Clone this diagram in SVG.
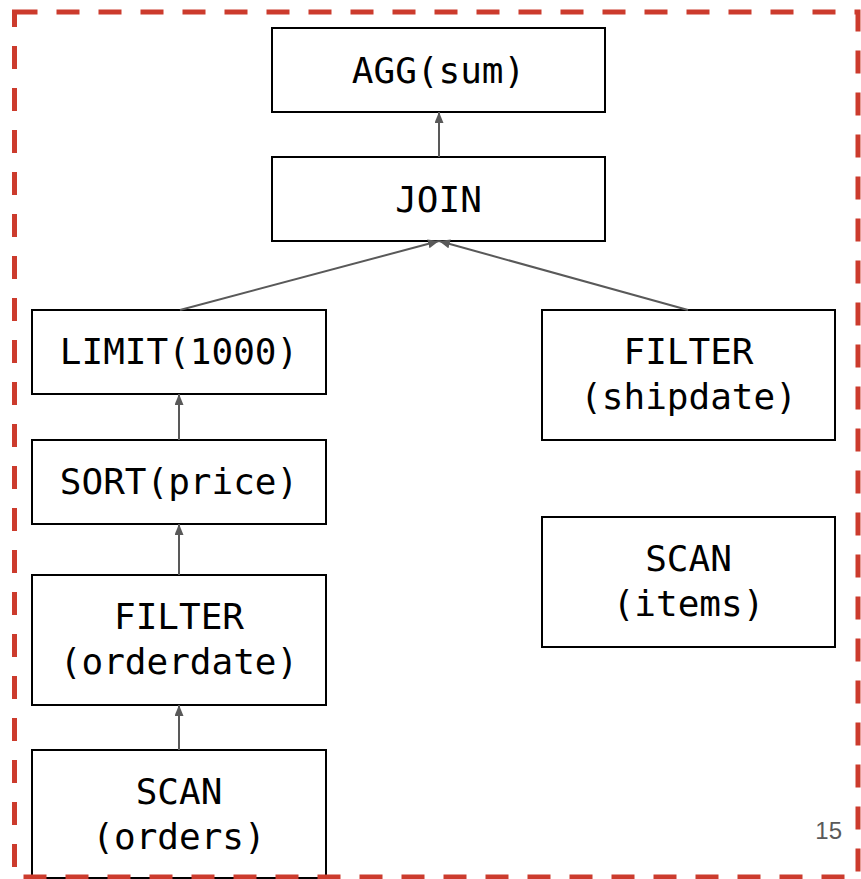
<svg xmlns="http://www.w3.org/2000/svg" width="861" height="879" viewBox="0 0 861 879">
  <style>
    .box { fill: #ffffff; stroke: #000000; stroke-width: 2; }
    .lbl { font-family: "DejaVu Sans Mono", "Liberation Mono", monospace; font-size: 36px; fill: #000000; text-anchor: middle; }
    .edge { fill: none; stroke: #595959; stroke-width: 2; marker-end: url(#arrow); }
    .frame { fill: none; stroke: #cc3b2d; stroke-width: 5; stroke-dasharray: 23 19; }
    .page { font-family: "Liberation Sans", Arial, sans-serif; font-size: 24px; fill: #595959; text-anchor: end; }
  </style>
  <defs>
    <marker id="arrow" markerUnits="userSpaceOnUse" markerWidth="11" markerHeight="10" refX="11" refY="4.5" orient="auto">
      <path d="M0,0 L11,4.5 L0,9 z" fill="#595959"/>
    </marker>
  </defs>

  <rect width="861" height="879" fill="#ffffff"/>

  <!-- operator nodes -->
  <g id="agg">
    <rect class="box" x="272" y="28" width="333" height="84"/>
    <text class="lbl" x="438.5" y="83">AGG(sum)</text>
  </g>
  <g id="join">
    <rect class="box" x="272" y="157" width="333" height="84"/>
    <text class="lbl" x="438.5" y="212">JOIN</text>
  </g>
  <g id="limit">
    <rect class="box" x="32" y="310" width="294" height="84"/>
    <text class="lbl" x="179" y="364">LIMIT(1000)</text>
  </g>
  <g id="sort">
    <rect class="box" x="32" y="440" width="294" height="84"/>
    <text class="lbl" x="179" y="494">SORT(price)</text>
  </g>
  <g id="filter-orderdate">
    <rect class="box" x="32" y="575" width="294" height="130"/>
    <text class="lbl" x="179" y="629">FILTER</text>
    <text class="lbl" x="179" y="674">(orderdate)</text>
  </g>
  <g id="scan-orders">
    <rect class="box" x="32" y="750" width="294" height="128"/>
    <text class="lbl" x="179" y="804">SCAN</text>
    <text class="lbl" x="179" y="849">(orders)</text>
  </g>
  <g id="filter-shipdate">
    <rect class="box" x="542" y="310" width="293" height="130"/>
    <text class="lbl" x="688.5" y="364">FILTER</text>
    <text class="lbl" x="688.5" y="409">(shipdate)</text>
  </g>
  <g id="scan-items">
    <rect class="box" x="542" y="517" width="293" height="130"/>
    <text class="lbl" x="688.5" y="571">SCAN</text>
    <text class="lbl" x="688.5" y="616">(items)</text>
  </g>

  <!-- data flow edges -->
  <g id="edges">
    <line class="edge" x1="439" y1="157" x2="439" y2="112"/>
    <line class="edge" x1="180" y1="310" x2="439" y2="241"/>
    <line class="edge" x1="688" y1="310" x2="439" y2="241"/>
    <line class="edge" x1="179" y1="440" x2="179" y2="394"/>
    <line class="edge" x1="179" y1="575" x2="179" y2="524"/>
    <line class="edge" x1="179" y1="750" x2="179" y2="705"/>
  </g>

  <!-- dashed frame and page number -->
  <rect class="frame" x="14.5" y="12" width="843.5" height="865"/>
  <text class="page" x="842" y="839">15</text>
</svg>
